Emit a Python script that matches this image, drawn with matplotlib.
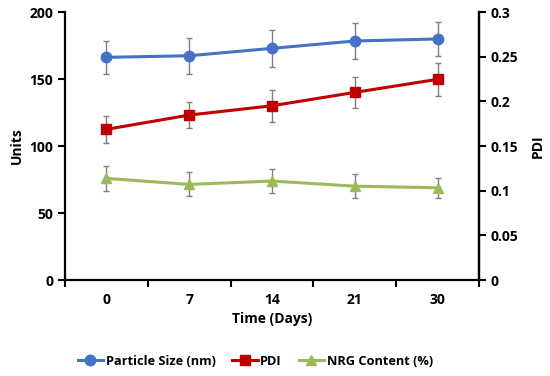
import matplotlib
matplotlib.use("Agg")
import matplotlib.pyplot as plt
from matplotlib.ticker import FixedLocator, FuncFormatter

# data
days = ["0", "7", "14", "21", "30"]
particle_size = [166.2, 167.4, 172.9, 178.4, 179.9]
particle_err = [12.4, 13.4, 14.0, 13.7, 12.7]
pdi = [0.1687, 0.1847, 0.1951, 0.2101, 0.2247]
pdi_err = [0.015, 0.015, 0.0177, 0.0174, 0.0187]
nrg = [75.9, 71.4, 73.9, 70.1, 68.9]
nrg_err = [9.3, 9.0, 9.0, 8.7, 7.6]

plt.rcParams.update({
    'font.family': ['Open Sans', 'DejaVu Sans'],
    'font.weight': 'bold',
    'axes.labelweight': 'bold',
    'font.size': 10,
})

BLUE = '#4472C4'
RED = '#C00000'
GREEN = '#9BBB59'
ERR = '#7f7f7f'

fig = plt.figure(figsize=(5.5, 3.76), dpi=100)
ax = fig.add_axes([0.118, 0.255, 0.753, 0.713])
ax2 = ax.twinx()

x = list(range(len(days)))
err_kw = dict(ecolor=ERR, elinewidth=1, capsize=2.5, capthick=1)

l1 = ax.errorbar(x, particle_size, yerr=particle_err, color=BLUE, lw=2.2,
                 marker='o', ms=7.5, **err_kw)
l3 = ax.errorbar(x, nrg, yerr=nrg_err, color=GREEN, lw=2.2,
                 marker='^', ms=7.5, **err_kw)
l2 = ax2.errorbar(x, pdi, yerr=pdi_err, color=RED, lw=2.2,
                  marker='s', ms=7, **err_kw)

ax.set_xlim(-0.5, len(days) - 0.5)
ax.set_ylim(0, 200)
ax2.set_ylim(0, 0.3)
ax.set_yticks([0, 50, 100, 150, 200])
ax2.yaxis.set_major_locator(FixedLocator([0, 0.05, 0.1, 0.15, 0.2, 0.25, 0.3]))
ax2.yaxis.set_major_formatter(FuncFormatter(lambda v, p: f'{v:g}'))

# category ticks between the points, labels under the points
ax.set_xticks([i - 0.5 for i in range(len(days) + 1)])
ax.set_xticklabels([])
ax.set_xticks(x, minor=True)
ax.set_xticklabels(days, minor=True)
ax.tick_params(axis='x', which='minor', length=0, pad=9)
ax.tick_params(axis='x', which='major', length=5, width=1.5, direction='out')

for a in (ax, ax2):
    a.spines['top'].set_visible(False)
    for s in ('left', 'right', 'bottom'):
        a.spines[s].set_linewidth(1.6)
    a.tick_params(axis='y', length=5, width=1.5, direction='out')
ax2.spines['left'].set_visible(False)
ax2.spines['bottom'].set_visible(False)

ax.set_xlabel('Time (Days)', labelpad=4)
ax.set_ylabel('Units', labelpad=4)
ax2.set_ylabel('PDI', labelpad=9)

fig.legend([l1[0], l2[0], l3[0]], ['Particle Size (nm)', 'PDI', 'NRG Content (%)'],
           loc='lower center', bbox_to_anchor=(0.464, -0.008), ncol=3, frameon=False,
           fontsize=9.2, handlelength=2.0, handletextpad=0.2, columnspacing=1.3)

fig.savefig('out.png', dpi=100)
